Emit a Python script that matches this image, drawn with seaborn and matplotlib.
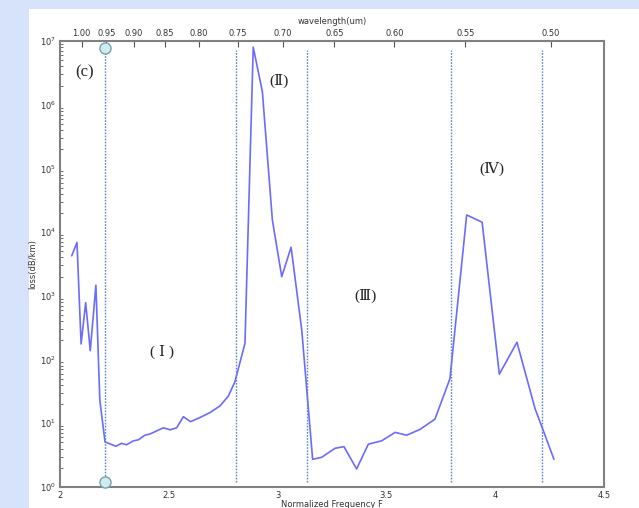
import numpy as np
import pandas as pd
import matplotlib
matplotlib.use("Agg")
import matplotlib.pyplot as plt
from matplotlib.patches import Rectangle
import seaborn as sns

# Loss curve
freq = [2.054, 2.078, 2.097, 2.118, 2.139, 2.165, 2.183, 2.207, 2.257, 2.283,
        2.306, 2.337, 2.360, 2.390, 2.414, 2.437, 2.475, 2.506, 2.536, 2.567,
        2.600, 2.643, 2.689, 2.735, 2.774, 2.804, 2.850, 2.888, 2.930, 2.976,
        3.019, 3.062, 3.111, 3.161, 3.203, 3.264, 3.305, 3.363, 3.417, 3.478,
        3.540, 3.593, 3.654, 3.723, 3.792, 3.869, 3.940, 4.019, 4.100, 4.183,
        4.214, 4.270]
loss = [4260, 6900, 176, 780, 138, 1470, 23, 5.1, 4.35, 4.85,
        4.6, 5.3, 5.5, 6.5, 6.8, 7.4, 8.5, 7.9, 8.5, 12.7,
        10.6, 12.3, 14.7, 18.7, 26.8, 45, 180, 8.0e6, 1.6e6, 15500,
        2000, 5800, 290, 2.72, 2.93, 4.05, 4.3, 1.92, 4.7, 5.3,
        7.2, 6.5, 8.0, 11.6, 50, 18600, 14300, 59, 187, 17,
        8.9, 2.72]

# region boundaries (normalized frequency)
bounds = [2.207, 2.807, 3.137, 3.795, 4.214]

# wavelength axis on top
wl_ticks = [1.00, 0.95, 0.90, 0.85, 0.80, 0.75, 0.70, 0.65, 0.60, 0.55, 0.50]

region_labels = ["( Ⅰ )", "(Ⅱ)", "(Ⅲ)", "(Ⅳ)"]
region_pos = [(2.469, 130), (3.006, 2.4e6), (3.406, 1000), (3.985, 1.0e5)]

df = pd.DataFrame({"F": freq, "loss": loss})

sns.set_style("white")
plt.rcParams["font.family"] = ["DejaVu Sans"]

fig = plt.figure(figsize=(6.39, 5.08), dpi=100, facecolor="#d6e3fb")
fig.patches.append(Rectangle((29 / 639, 0), 1 - 29 / 639, 499 / 508,
                             transform=fig.transFigure, facecolor="white",
                             edgecolor="none", zorder=-5))
ax = fig.add_axes([60 / 639, 21 / 508, 544 / 639, 446 / 508])
ax.set_facecolor("white")

sns.lineplot(data=df, x="F", y="loss", ax=ax, color="#6b6bff", linewidth=1.2)
ax.set_yscale("log")
ax.set_xlim(2, 4.5)
ax.set_ylim(1, 1e7)

ax.vlines(bounds, 1.2, 7.2e6, colors="#5a88c8", linestyles=(0, (1.2, 1)),
          linewidth=1.0)
ax.plot([bounds[0], bounds[0]], [1.2, 7.8e6], "o", markersize=8,
        markerfacecolor="#cdeef0", markeredgecolor="#7f9ea6",
        markeredgewidth=1.0, clip_on=False, zorder=5)

for s in ax.spines.values():
    s.set_color("#808080")
    s.set_linewidth(1.5)

ax.set_xticks([2, 2.5, 3, 3.5, 4, 4.5])
ax.set_xticklabels(["2", "2.5", "3", "3.5", "4", "4.5"])
ax.tick_params(axis="both", which="both", direction="in", labelsize=6,
               colors="#555555", labelcolor="#333333")
ax.tick_params(axis="x", which="major", length=4, pad=3)
ax.tick_params(axis="y", which="major", length=4, pad=3)
ax.tick_params(axis="y", which="minor", length=2, left=True)
ax.tick_params(axis="x", which="minor", bottom=False)
ax.yaxis.set_major_locator(matplotlib.ticker.LogLocator(base=10, numticks=10))
ax.yaxis.set_minor_locator(matplotlib.ticker.LogLocator(base=10, subs=np.arange(2, 10), numticks=10))
ax.yaxis.set_minor_formatter(matplotlib.ticker.NullFormatter())

ax.set_xlabel("Normalized Frequency F", fontsize=6, color="#333333", labelpad=0)
ax.set_ylabel("loss(dB/km)", fontsize=6, color="#333333", labelpad=2)

a, b = 2.155, -0.055
top = ax.secondary_xaxis("top", functions=(lambda f: a / (f - b), lambda w: a / w + b))
top.set_xticks(wl_ticks)
top.set_xticklabels([f"{w:.2f}" for w in wl_ticks])
top.tick_params(direction="in", length=4, labelsize=6, colors="#555555",
                labelcolor="#333333", pad=2)
top.spines["top"].set_visible(False)
top.set_xlabel("wavelength(um)", fontsize=6, color="#333333", labelpad=4)

serif = ["Liberation Serif", "DejaVu Serif", "Noto Sans CJK SC"]
ax.text(2.072, 3.2e6, "(c)", fontsize=12, family=serif, ha="left", va="center")
for lab, (x, y) in zip(region_labels, region_pos):
    ax.text(x, y, lab, fontsize=11, family=serif, ha="center", va="center")

fig.savefig("out.png", dpi=100, facecolor=fig.get_facecolor())
